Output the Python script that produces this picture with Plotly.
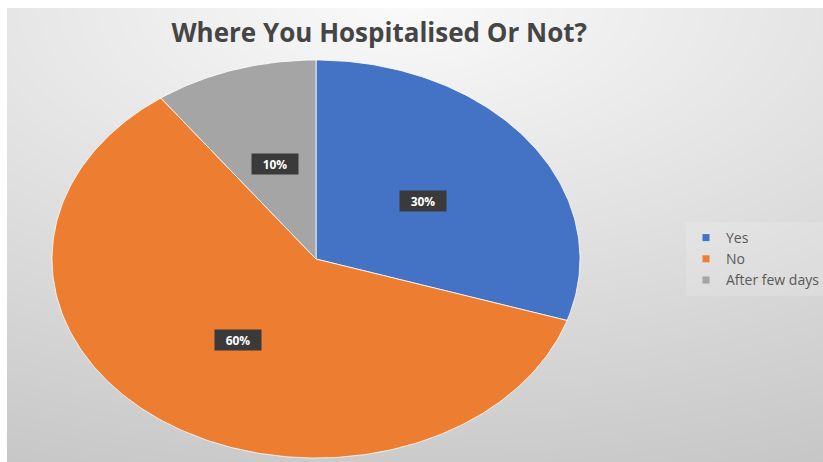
import numpy as np
import plotly.graph_objects as go

# ---- data ----
categories = ["Yes", "No", "After few days"]
shares = [30, 60, 10]
slice_labels = ["30%", "60%", "10%"]
colors = ["#4472C4", "#ED7D31", "#A5A5A5"]
title_text = "Where You Hospitalised Or Not?"

# ---- layout geometry (pixels) ----
W, H = 823, 462
ML, MT = 7, 8                    # white strip on the left / top
CX, CY, RX, RY = 316, 259, 264, 199   # pie centre and radii

plot_w = W - ML
plot_h = H - MT
# axis ranges chosen so the unit circle renders as the pie ellipse
xr = [(ML - CX) / RX, (W - CX) / RX]
yr = [(CY - H) / RY, (CY - MT) / RY]

fig = go.Figure()

# soft radial grey background
gx = np.linspace(ML - 10, W + 10, 60)
gy = np.linspace(MT - 10, H + 10, 40)
PX, PY = np.meshgrid(gx, gy)
dist = np.sqrt(((PX - 400) / 1060) ** 2 + ((PY - 0) / 530) ** 2)
shade = 250 - 54 * np.clip(dist, 0, 1)
fig.add_trace(go.Heatmap(
    x=(gx - CX) / RX, y=(CY - gy) / RY, z=shade,
    zmin=196, zmax=250, zsmooth="best",
    colorscale=[[0, "rgb(196,196,196)"], [1, "rgb(250,250,250)"]],
    showscale=False, hoverinfo="skip",
))

# pie slices, clockwise from 12 o'clock
total = float(sum(shares))
start = 0.0
for cat, val, col, lab in zip(categories, shares, colors, slice_labels):
    span = 2 * np.pi * val / total
    th = np.linspace(start, start + span, max(int(val * 4), 8))
    xs = np.concatenate([[0], np.sin(th), [0]])
    ys = np.concatenate([[0], np.cos(th), [0]])
    fig.add_trace(go.Scatter(
        x=xs, y=ys, mode="lines", fill="toself", fillcolor=col,
        line=dict(color="rgba(255,255,255,0.8)", width=1),
        name=cat, showlegend=False, hoverinfo="name",
    ))
    mid = start + span / 2
    fig.add_annotation(
        x=0.5 * np.sin(mid), y=0.5 * np.cos(mid), xref="x", yref="y",
        text="<b>%s</b>" % lab, showarrow=False,
        font=dict(family="Open Sans", size=12, color="white"),
        bgcolor="#3a3a3a", borderpad=3, width=40, height=14,
    )
    start += span

# legend entries
for cat, col in zip(categories, colors):
    fig.add_trace(go.Scatter(
        x=[None], y=[None], mode="markers", name=cat,
        marker=dict(symbol="square", size=7, color=col),
    ))

fig.update_xaxes(range=xr, visible=False, fixedrange=True)
fig.update_yaxes(range=yr, visible=False, fixedrange=True)

fig.update_layout(
    width=W, height=H,
    margin=dict(l=ML, r=0, t=MT, b=0, pad=0, autoexpand=False),
    paper_bgcolor="white", plot_bgcolor="#d8d8d8",
    title=dict(
        text="<b>%s</b>" % title_text,
        x=(383 - ML) / plot_w, xanchor="center",
        y=1 - 33 / H, yanchor="middle",
        font=dict(family="Open Sans", size=26, color="#454545"),
    ),
    legend=dict(
        x=(686 - ML) / plot_w, xanchor="left",
        y=(H - 259) / plot_h, yanchor="middle",
        font=dict(family="Open Sans", size=14, color="#595959"),
        bgcolor="rgba(255,255,255,0.15)", itemwidth=30,
    ),
    showlegend=True,
)

fig.write_html("out.html")
